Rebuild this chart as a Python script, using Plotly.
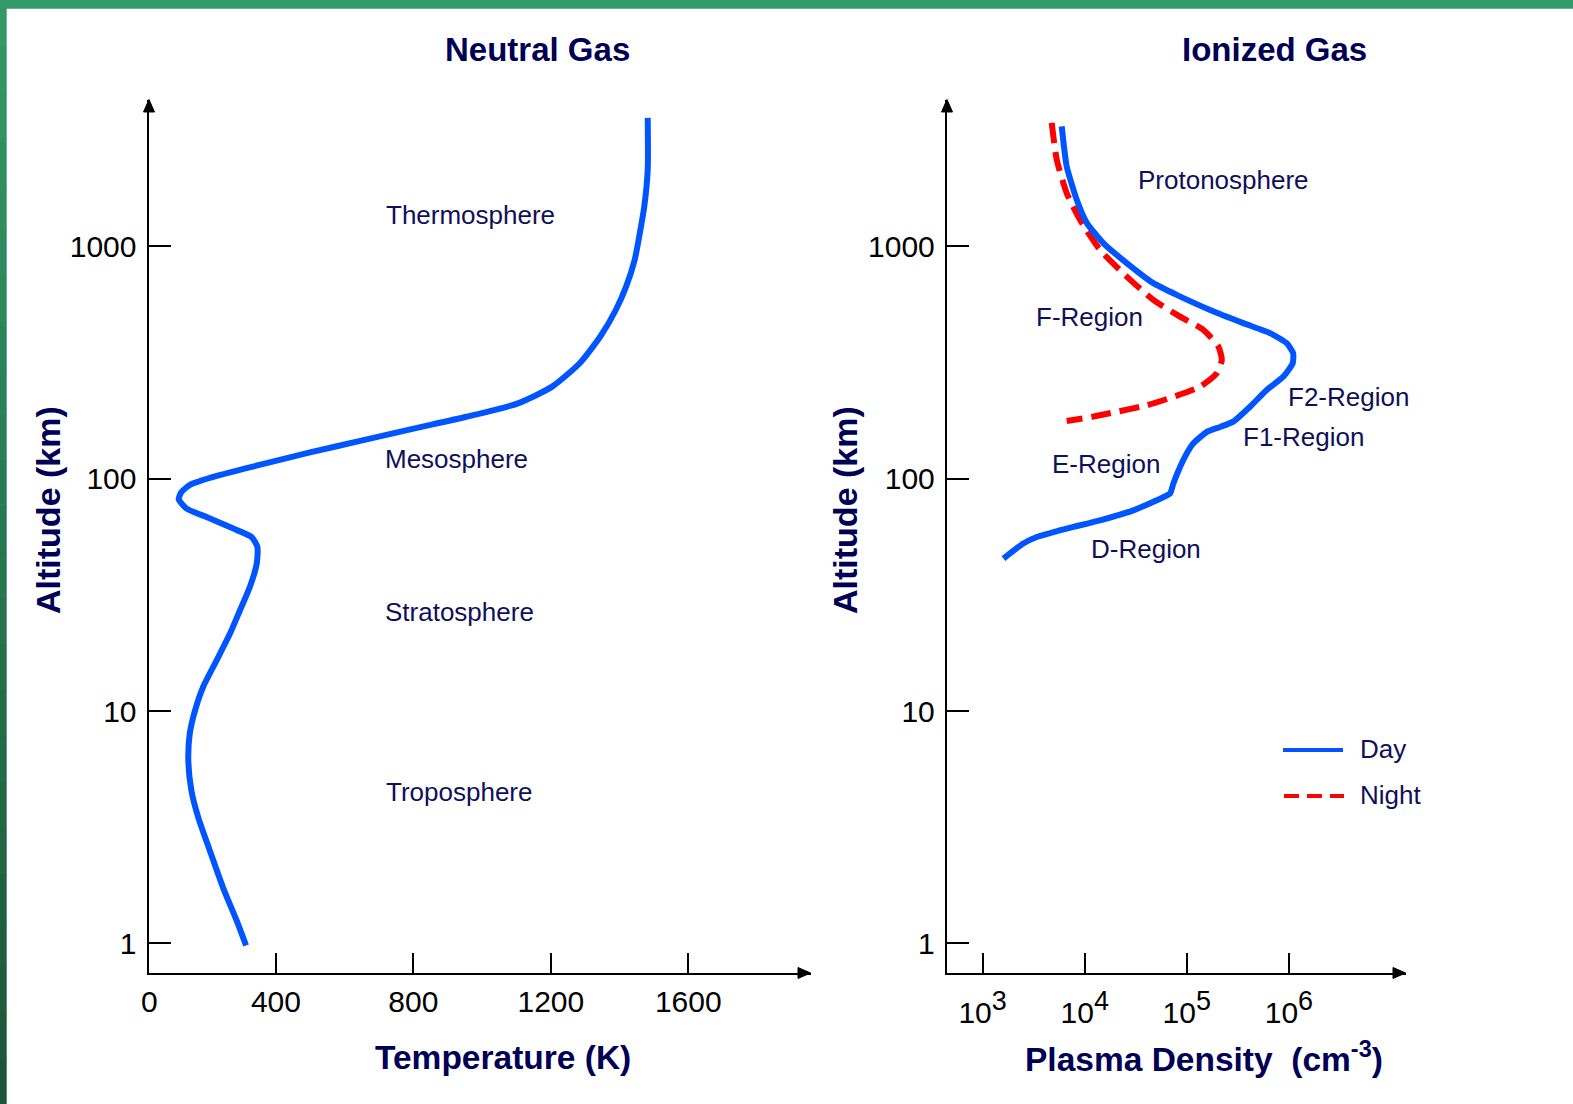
import plotly.graph_objects as go

# ---------------- data ----------------
temp_K = [313, 286, 246, 208, 174, 154, 145, 149, 164, 188, 227, 266, 295, 324, 344,
          346, 329, 276, 198, 140, 117, 125, 151, 225, 349, 496, 645, 804, 954, 1104,
          1204, 1284, 1344, 1389, 1419, 1444, 1459, 1472, 1482, 1482]
temp_alt_km = [0.98, 1.25, 1.74, 2.50, 3.48, 4.54, 6.12, 7.97, 10.0, 12.7, 16.5, 21.5, 27.1,
               34.2, 43.1, 50.8, 56.1, 61.0, 68.4, 74.4, 81.6, 87.7, 94.2, 102.5, 114.3,
               129.4, 145.4, 164.6, 184.7, 211, 249, 314, 409, 532, 671, 874, 1140, 1485,
               2137, 3569]

day_density = [5950, 6660, 8350, 10500, 15200, 25800, 47000, 79600, 169000, 358000, 653000,
               952000, 1100000, 1090000, 882000, 606000, 416000, 285000, 212000, 157000,
               116000, 99800, 85800, 73800, 68500, 50700, 29900, 14100, 6660, 3390, 2500, 1600]
day_alt_km = [3283, 2208, 1585, 1259, 1032, 847, 694, 618, 532, 467, 423, 383, 347, 314, 275,
              241, 204, 176, 167, 159, 142, 128.5, 112.4, 95.3, 86.3, 80.8, 73.1, 66.2, 61.0,
              56.1, 52.6, 45.3]

night_density = [4750, 5320, 6660, 9000, 14100, 25800, 47000, 85800, 145000, 204000, 220000,
                 196000, 135000, 73800, 40500, 20600, 12100, 6660]
night_alt_km = [3396, 2360, 1695, 1300, 966, 741, 588, 498, 437, 370, 324, 284, 249, 225, 207,
                194, 185, 177]

alt_ticks = [1, 10, 100, 1000]
alt_ticktext = ["1", "10", "100", "1000"]
temp_ticks = [400, 800, 1200, 1600]
temp_ticktext = ["400", "800", "1200", "1600"]
dens_ticks = [1e3, 1e4, 1e5, 1e6]
dens_exponents = ["3", "4", "5", "6"]

left_regions = ["Thermosphere", "Mesosphere", "Stratosphere", "Troposphere"]
right_regions = ["Protonosphere", "F-Region", "F2-Region", "F1-Region", "E-Region", "D-Region"]
series_names = ["Day", "Night"]

# ---------------- styling ----------------
W, H = 1573, 1104
BLUE = "#0055ff"
RED = "#ff0000"
NAVY = "#000055"
LABEL_COLOR = "#10105a"
SANS = "Liberation Sans, Arial, sans-serif"

dens_ticktext = ['10<sup><span style="font-size:27px">%s</span></sup>' % e for e in dens_exponents]


def px(x):
    return x / W


def py(y):
    return 1 - y / H


fig = go.Figure()

fig.add_trace(go.Scatter(x=temp_K, y=temp_alt_km, mode="lines",
                         line=dict(color=BLUE, width=6, shape="spline", smoothing=0.6),
                         xaxis="x", yaxis="y", showlegend=False, hoverinfo="skip"))
fig.add_trace(go.Scatter(x=night_density, y=night_alt_km, mode="lines", name=series_names[1],
                         line=dict(color=RED, width=6, dash="20px,9px", shape="spline", smoothing=0.6),
                         xaxis="x2", yaxis="y2", showlegend=False, hoverinfo="skip"))
fig.add_trace(go.Scatter(x=day_density, y=day_alt_km, mode="lines", name=series_names[0],
                         line=dict(color=BLUE, width=6, shape="spline", smoothing=0.5),
                         xaxis="x2", yaxis="y2", showlegend=False, hoverinfo="skip"))

ydom = [py(973), py(99.5)]
yrange = [-0.127, 3.6317]
axis_common = dict(showline=True, linecolor="black", linewidth=2, showgrid=False, zeroline=False,
                   ticks="inside", tickcolor="black", tickwidth=2,
                   tickfont=dict(family=SANS, size=30, color="black"))

fig.update_layout(
    width=W, height=H, margin=dict(l=0, r=0, t=0, b=0),
    paper_bgcolor="white", plot_bgcolor="white",
    xaxis=dict(domain=[px(148.5), px(810.6)], range=[29.1, 1956], anchor="y",
               tickvals=temp_ticks, ticktext=temp_ticktext, ticklen=20, ticklabelstandoff=1,
               **axis_common),
    yaxis=dict(domain=ydom, type="log", range=yrange, anchor="x",
               tickvals=alt_ticks, ticktext=alt_ticktext, ticklen=22, ticklabelstandoff=4,
               **axis_common),
    xaxis2=dict(domain=[px(946.8), px(1405.6)], type="log", range=[2.649, 7.143], anchor="y2",
                tickvals=dens_ticks, ticktext=dens_ticktext, ticklen=20, ticklabelstandoff=12,
                **axis_common),
    yaxis2=dict(domain=ydom, type="log", range=yrange, anchor="x2",
                tickvals=alt_ticks, ticktext=alt_ticktext, ticklen=22, ticklabelstandoff=4,
                **axis_common),
)

shapes = []
# green frame (top band and left band with a vertical gradient)
shapes.append(dict(type="rect", xref="paper", yref="paper", x0=0, x1=1, y0=py(8.7), y1=1,
                   fillcolor="#339966", line=dict(width=0), layer="above"))
n_seg = 24
c0, c1 = (51, 153, 102), (28, 86, 56)
for i in range(n_seg):
    t = i / (n_seg - 1)
    col = "rgb(%d,%d,%d)" % tuple(round(a + (b - a) * t) for a, b in zip(c0, c1))
    shapes.append(dict(type="rect", xref="paper", yref="paper", x0=0, x1=px(6.7),
                       y0=py(H * (i + 1) / n_seg + 0.5), y1=py(H * i / n_seg),
                       fillcolor=col, line=dict(width=0), layer="above"))


def tri(tip, base1, base2):
    return dict(type="path", xref="paper", yref="paper",
                path="M %f %f L %f %f L %f %f Z" % (px(tip[0]), py(tip[1]), px(base1[0]), py(base1[1]),
                                                    px(base2[0]), py(base2[1])),
                fillcolor="black", line=dict(color="black", width=1), layer="above")


# axis arrowheads
shapes.append(tri((810.6, 973), (798, 967.5), (798, 978.5)))
shapes.append(tri((1405.6, 973), (1393, 967.5), (1393, 978.5)))
shapes.append(tri((149, 99.5), (143.5, 112), (154.5, 112)))
shapes.append(tri((947, 99.5), (941.5, 112), (952.5, 112)))

# legend samples
shapes.append(dict(type="line", xref="paper", yref="paper", x0=px(1283), x1=px(1343), y0=py(750), y1=py(750),
                   line=dict(color=BLUE, width=4)))
shapes.append(dict(type="line", xref="paper", yref="paper", x0=px(1284), x1=px(1344), y0=py(796), y1=py(796),
                   line=dict(color=RED, width=4, dash="15px,8px")))
fig.update_layout(shapes=shapes)

ann = []


def text(x, y, s, size, color, family=SANS, xanchor="left", angle=0):
    ann.append(dict(x=px(x), y=py(y), xref="paper", yref="paper", text=s, showarrow=False,
                    xanchor=xanchor, yanchor="middle", textangle=angle,
                    font=dict(family=family, size=size, color=color)))


# panel titles
text(537, 49, "<b>Neutral Gas</b>", 33, NAVY, xanchor="center")
text(1274, 49, "<b>Ionized Gas</b>", 33, NAVY, xanchor="center")
# axis titles
text(503, 1057, "<b>Temperature (K)</b>", 33.5, NAVY, xanchor="center")
text(1204, 1057, "<b>Plasma Density  (cm<sup>-3</sup>)</b>", 33.5, NAVY, xanchor="center")
text(48, 510, "<b>Altitude (km)</b>", 34, NAVY, xanchor="center", angle=-90)
text(845, 510, "<b>Altitude (km)</b>", 34, NAVY, xanchor="center", angle=-90)
# zero label of the temperature axis
text(149, 1001, "0", 30, "black", xanchor="center")

# region labels
for name, (x, y) in zip(left_regions, [(384, 215), (383, 459), (383, 612), (384, 792)]):
    text(x, y, name, 26, LABEL_COLOR)
for name, (x, y) in zip(right_regions, [(1136, 180), (1034, 317), (1286, 397), (1241, 437),
                                        (1050, 464), (1089, 549)]):
    text(x, y, name, 26, LABEL_COLOR)
# legend texts
text(1358, 749, series_names[0], 26, LABEL_COLOR)
text(1358, 795, series_names[1], 26, LABEL_COLOR)

fig.update_layout(annotations=ann)

fig.write_html("out.html", config={"displayModeBar": False},
               post_script="document.body.style.margin='0';document.body.style.overflow='hidden';")
